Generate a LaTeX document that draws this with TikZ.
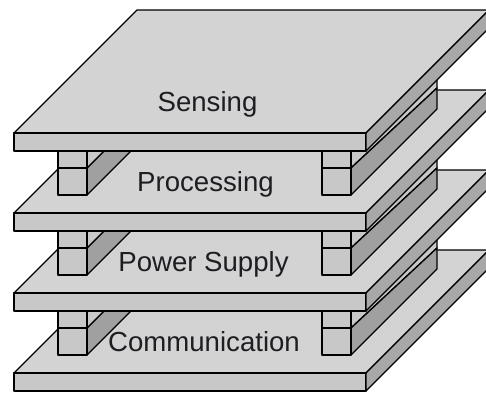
\documentclass[tikz,border=0pt]{standalone}
\usepackage{fontspec}
\setmainfont{Liberation Sans}
\definecolor{topgray}{RGB}{211,211,211}
\definecolor{frontgray}{RGB}{200,200,200}
\definecolor{sidegray}{RGB}{168,168,168}
\definecolor{postfront}{RGB}{200,200,200}
\definecolor{postside}{RGB}{160,160,160}
\definecolor{labelink}{RGB}{30,30,34}
\tikzset{
  edge/.style={draw=black, line width=1pt, line join=round},
  topface/.style={edge, fill=topgray},
  frontface/.style={edge, fill=frontgray},
  sideface/.style={edge, fill=sidegray},
  postlight/.style={edge, fill=postfront},
  postdark/.style={edge, fill=postside},
  layerlabel/.style={anchor=base, font=\fontsize{20.7}{24}\selectfont, text=labelink, inner sep=0pt}
}
% one board of the stack: #1 = y of its front top edge
\newcommand\drawboard[1]{%
  \path[topface] (14,#1) -- (366,#1) -- (489,#1-123) -- (137,#1-123) -- cycle;
  \path[frontface] (14,#1) rectangle (366,#1+18);
  \path[sideface] (366,#1) -- (489,#1-123) -- (489,#1-105) -- (366,#1+18) -- cycle;
}
% the two rails under a board: #1 = y of that board's lower edge
\newcommand\drawrails[1]{%
  % left rail
  \path[postdark] (87,#1+17) -- (104,#1) -- (131,#1) -- (87,#1+44) -- cycle;
  \path[postlight] (87,#1) -- (104,#1) -- (87,#1+17) -- cycle;
  \path[postlight] (58,#1) rectangle (87,#1+44);
  \draw[edge] (58,#1+17) -- (87,#1+17);
  % right rail
  \path[postlight] (351,#1) -- (437,#1-86) -- (437,#1-63) -- (351,#1+17) -- cycle;
  \path[postdark] (351,#1+17) -- (437,#1-63) -- (437,#1-42) -- (351,#1+44) -- cycle;
  \path[postlight] (322,#1) rectangle (351,#1+44);
  \draw[edge] (322,#1+17) -- (351,#1+17);
}
\begin{document}
\begin{tikzpicture}[x=0.75pt, y=-0.75pt]
\useasboundingbox (0,0) rectangle (486,394);
\clip (0,0) rectangle (486,394);
\fill[white] (0,0) rectangle (486,394);

% bottom board
\drawboard{373}
\drawrails{311}
\node[layerlabel] (comm) at (204,351) {Communication};

% third board
\drawboard{293}
\drawrails{231}
\node[layerlabel] (power) at (203.5,271) {Power Supply};

% second board
\drawboard{213}
\drawrails{151}
\node[layerlabel] (proc) at (205.5,191) {Processing};

% top board
\drawboard{133}
\node[layerlabel] (sense) at (207.5,111) {Sensing};
\end{tikzpicture}
\end{document}
